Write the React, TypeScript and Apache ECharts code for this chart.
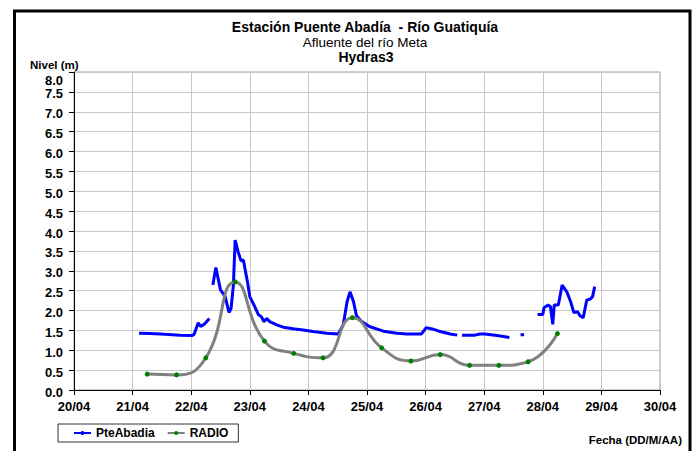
import React, { useEffect, useRef } from "react";
import * as echarts from "echarts";

const FONT = "'Liberation Sans', Arial, sans-serif";

// PteAbadia: day of April (fractional) and level (m); null marks a gap in the record
const pteDays = [
  21.11, 21.3, 21.55, 21.81, 22.01, 22.05, 22.12, 22.16, 22.22, 22.31,
  22.34,
  22.37, 22.42, 22.5, 22.58, 22.645, 22.68, 22.72, 22.75, 22.8, 22.85, 22.89,
  22.96, 23.0, 23.07, 23.145, 23.2, 23.24, 23.29, 23.34, 23.46, 23.57, 23.74,
  23.91, 24.08, 24.31, 24.51, 24.595, 24.66, 24.71, 24.77, 24.82, 24.91, 25.05,
  25.28, 25.51, 25.68, 25.93, 26.01, 26.13, 26.25, 26.42, 26.54,
  26.58,
  26.62, 26.84, 26.93, 27.01, 27.22, 27.43,
  27.5,
  27.62, 27.68,
  27.8,
  27.91, 28.0, 28.02, 28.09, 28.13, 28.17, 28.195, 28.265, 28.33, 28.41, 28.475,
  28.53, 28.59, 28.635, 28.69, 28.75, 28.81, 28.85, 28.885,
];
const pteLevels: (number | null)[] = [
  1.43, 1.42, 1.4, 1.38, 1.37, 1.4, 1.69, 1.6, 1.65, 1.8,
  null,
  2.64, 3.08, 2.52, 2.35, 1.95, 2.05, 2.64, 3.77, 3.48, 3.25, 3.27,
  2.72, 2.35, 2.14, 1.9, 1.84, 1.72, 1.8, 1.72, 1.64, 1.58, 1.54,
  1.51, 1.47, 1.43, 1.41, 1.64, 2.22, 2.47, 2.22, 1.87, 1.72, 1.59,
  1.48, 1.43, 1.41, 1.41, 1.57, 1.53, 1.47, 1.41, 1.38,
  null,
  1.38, 1.38, 1.41, 1.41, 1.37, 1.32,
  null,
  1.39, 1.39,
  null,
  1.9, 1.9, 2.07, 2.14, 2.1, 1.65, 2.14, 2.14, 2.64, 2.47, 2.22,
  1.95, 1.97, 1.87, 1.82, 2.26, 2.29, 2.35, 2.6,
];

// RADIO readings, every 12 hours
const radioDays = [
  21.25, 21.75, 22.25, 22.75, 23.25, 23.75, 24.25, 24.75,
  25.25, 25.75, 26.25, 26.75, 27.25, 27.75, 28.25,
];
const radioLevels = [
  0.4, 0.38, 0.81, 2.72, 1.23, 0.92, 0.81, 1.82,
  1.06, 0.73, 0.89, 0.62, 0.62, 0.71, 1.42,
];

const titleLines = [
  "Estación Puente Abadía  - Río Guatiquía",
  "Afluente del río Meta",
  "Hydras3",
];

export default function App() {
  const ref = useRef<HTMLDivElement>(null);
  useEffect(() => {
    document.body.style.margin = "0";
    const chart = echarts.init(ref.current!, null, { renderer: "svg" });
    const pteData = pteDays.map((d, i) => [d, pteLevels[i] === null ? "-" : pteLevels[i]]);
    const radioData = radioDays.map((d, i) => [d, radioLevels[i]]);
    const labelFont = { fontFamily: FONT, fontWeight: "bold" as const, fontSize: 13, color: "#000" };
    chart.setOption({
      animation: false,
      backgroundColor: "#ffffff",
      textStyle: { fontFamily: FONT },
      grid: {
        left: 74,
        right: 35,
        top: 72,
        bottom: 61,
        show: true,
        borderColor: "#a0a0a0",
        borderWidth: 1,
      },
      legend: {
        left: 58,
        top: 424,
        data: ["PteAbadia", "RADIO"],
        itemWidth: 17,
        itemHeight: 5,
        itemGap: 12,
        borderColor: "#333333",
        borderWidth: 1,
        borderRadius: 0,
        padding: [3, 10, 3, 15],
        textStyle: { fontFamily: FONT, fontWeight: "bold", fontSize: 12, color: "#000" },
      },
      xAxis: {
        type: "value",
        min: 20,
        max: 30,
        interval: 1,
        axisLine: { onZero: false, lineStyle: { color: "#000", width: 1 } },
        axisTick: { show: true, length: 5, lineStyle: { color: "#000" } },
        axisLabel: {
          margin: 10,
          formatter: (v: number) => `${v}/04`,
          ...labelFont,
        },
        splitLine: { show: true, lineStyle: { color: "#c8c8c8", width: 1 } },
      },
      yAxis: {
        type: "value",
        min: 0,
        max: 8,
        interval: 0.5,
        axisLine: { show: true, lineStyle: { color: "#000", width: 1 } },
        axisTick: { show: true, length: 5, lineStyle: { color: "#000" } },
        axisLabel: {
          margin: 11,
          formatter: (v: number) => (v === 8 ? `{top|${v.toFixed(1)}}` : `{n|${v.toFixed(1)}}`),
          ...labelFont,
          rich: {
            top: { ...labelFont, padding: [16, 0, 0, 0] },
            n: { ...labelFont, padding: [4, 0, 0, 0] },
          },
        },
        splitLine: { show: true, lineStyle: { color: "#c8c8c8", width: 1 } },
      },
      graphic: [
        {
          type: "rect",
          silent: true,
          shape: { x: 14.5, y: 11, width: 675.5, height: 470 },
          style: { fill: "none", stroke: "#000", lineWidth: 3 },
        },
        {
          type: "text",
          x: 365,
          y: 27,
          style: {
            text: titleLines[0],
            fontFamily: FONT,
            fontWeight: "bold",
            fontSize: 14,
            fill: "#000",
            align: "center",
            verticalAlign: "middle",
          },
        },
        {
          type: "text",
          x: 365,
          y: 42,
          style: {
            text: titleLines[1],
            fontFamily: FONT,
            fontSize: 13.5,
            fill: "#000",
            align: "center",
            verticalAlign: "middle",
          },
        },
        {
          type: "text",
          x: 366,
          y: 57,
          style: {
            text: titleLines[2],
            fontFamily: FONT,
            fontWeight: "bold",
            fontSize: 14,
            fill: "#000",
            align: "center",
            verticalAlign: "middle",
          },
        },
        {
          type: "text",
          x: 30,
          y: 65,
          style: {
            text: "Nivel (m)",
            fontFamily: FONT,
            fontWeight: "bold",
            fontSize: 11.5,
            fill: "#000",
            align: "left",
            verticalAlign: "middle",
          },
        },
        {
          type: "text",
          x: 682,
          y: 440,
          style: {
            text: "Fecha (DD/M/AA)",
            fontFamily: FONT,
            fontWeight: "bold",
            fontSize: 11.5,
            fill: "#000",
            align: "right",
            verticalAlign: "middle",
          },
        },
      ],
      series: [
        {
          name: "PteAbadia",
          type: "line",
          data: pteData,
          symbol: "none",
          connectNulls: false,
          lineStyle: { color: "#0000ff", width: 3 },
          itemStyle: { color: "#0000ff" },
          z: 2,
        },
        {
          name: "RADIO",
          type: "line",
          data: radioData,
          smooth: 0.5,
          symbol: "circle",
          symbolSize: 5,
          showSymbol: true,
          lineStyle: { color: "#808080", width: 3 },
          itemStyle: { color: "#008000", borderWidth: 0 },
          z: 3,
        },
      ],
    });
    return () => chart.dispose();
  }, []);
  return <div ref={ref} style={{ width: 695, height: 451 }} />;
}
